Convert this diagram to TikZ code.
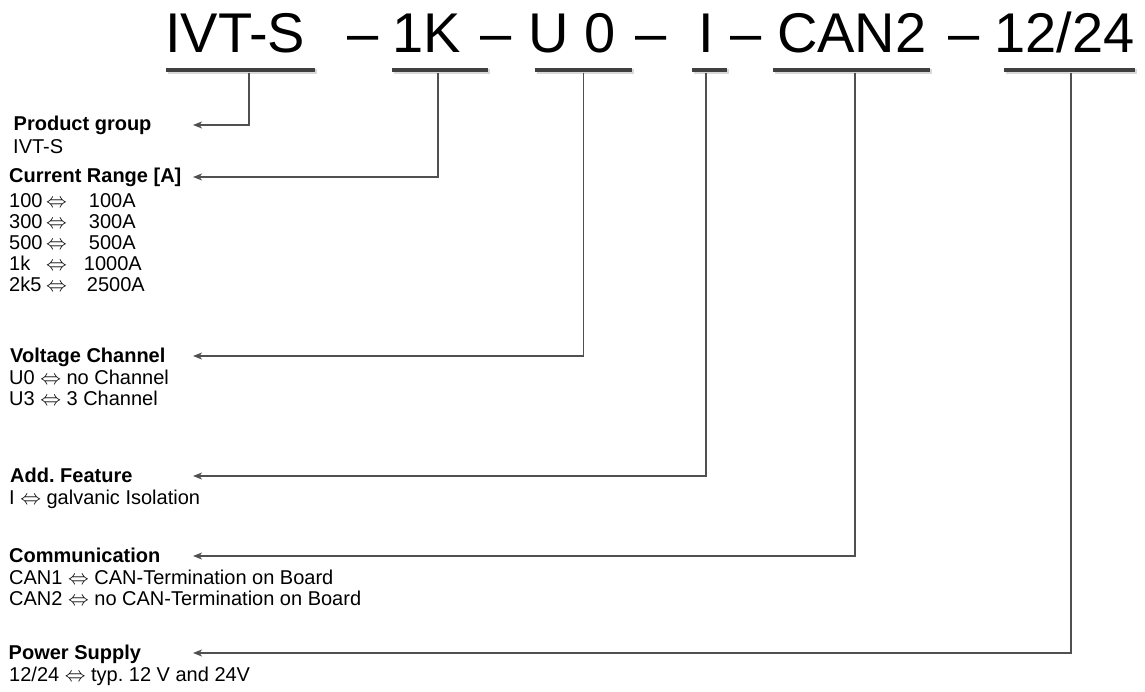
\documentclass[tikz,border=0pt]{standalone}
\usepackage{fontspec}
\setmainfont{Liberation Sans}
\usetikzlibrary{arrows.meta}
\usetikzlibrary{positioning}
\usetikzlibrary{shadows}
\definecolor{bargray}{HTML}{404040}
\definecolor{linegray}{HTML}{505050}
\newcommand{\dblarrow}{\ensuremath{\Leftrightarrow}}
\frenchspacing
\tikzset{x=1pt, y=-1pt}
\tikzset{bar/.style = {fill=bargray, inner sep=0, minimum height=4.5,
                       drop shadow={shadow xshift=2pt, shadow yshift=-1.5pt,
                                    fill=black!15, opacity=1}}}
\tikzset{code/.style = {font=\fontsize{56}{56}\selectfont, inner sep=0, anchor=base west}}
\tikzset{head/.style = {font=\fontsize{20}{21}\selectfont\bfseries, inner sep=0, anchor=base west}}
\tikzset{body/.style = {font=\fontsize{20}{21}\selectfont, inner sep=0, anchor=north west, align=left}}
\tikzset{lead/.style = {draw=linegray, line width=1.3pt,
                        -{Stealth[length=9pt, width=7pt, inset=2.5pt]}}}

\begin{document}
\begin{tikzpicture}
  \useasboundingbox (0,0) rectangle (1145,692);

  % type code
  \node [code] (cIVT) at (165,53) {IVT-S};
  \node [code] (dash1) at (347,53) {–};
  \node [code] (c1K) at (392,53) {1K};
  \node [code] (dash2) at (480,53) {–};
  \node [code] (cU0) at (528,53) {U 0};
  \node [code] (dash3) at (635,53) {–};
  \node [code] (cI) at (698,53) {I};
  \node [code] (dash4) at (730,53) {–};
  \node [code] (cCAN) at (777,53) {CAN2};
  \node [code] (dash5) at (948,53) {–};
  \node [code] (c1224) at (994,53) {12/24};

  \node [bar, minimum width=149] (barIVT) at (240.5,70.25) {};
  \node [bar, minimum width=96] (bar1K) at (440,70.25) {};
  \node [bar, minimum width=97] (barU0) at (583.5,70.25) {};
  \node [bar, minimum width=35] (barI) at (709.5,70.25) {};
  \node [bar, minimum width=157] (barCAN) at (851.5,70.25) {};
  \node [bar, minimum width=131] (bar1224) at (1069.5,70.25) {};

  % legend
  \node [head] (hdPG) at (13.5,131) {Product group};
  \node [body] (bdPG) at (13,139.2) {IVT-S};

  \node [head] (hdCR) at (9,182.5) {Current Range [A]};
  \node [body] (bdCR) at (9,193) {\makebox[37pt][l]{100}\dblarrow\hspace{22pt}100A\\
    \makebox[37pt][l]{300}\dblarrow\hspace{22pt}300A\\
    \makebox[37pt][l]{500}\dblarrow\hspace{22pt}500A\\
    \makebox[37pt][l]{1k}\dblarrow\hspace{17pt}1000A\\
    \makebox[37pt][l]{2k5}\dblarrow\hspace{20pt}2500A};

  \node [head] (hdVC) at (10,362) {Voltage Channel};
  \node [body] (bdVC) at (9,370.2) {U0 \dblarrow{} no Channel\\U3 \dblarrow{} 3 Channel};

  \node [head] (hdAF) at (10,482) {Add. Feature};
  \node [body] (bdAF) at (9,490.2) {I \dblarrow{} galvanic Isolation};

  \node [head] (hdCM) at (9,562) {Communication};
  \node [body] (bdCM) at (9,570.2) {CAN1 \dblarrow{} CAN-Termination on Board\\
    CAN2 \dblarrow{} no CAN-Termination on Board};

  \node [head] (hdPS) at (8.5,659) {Power Supply};
  \node [body] (bdPS) at (9,667.2) {12/24 \dblarrow{} typ. 12 V and 24V};

  % leaders
  \coordinate (tipPG) at (193,125);
  \coordinate (tipCR) at (193,177);
  \coordinate (tipVC) at (193,356);
  \coordinate (tipAF) at (193,476);
  \coordinate (tipCM) at (193,556);
  \coordinate (tipPS) at (193,653);

  \draw [lead] ([xshift=8.5pt]barIVT.south) |- (tipPG);
  \draw [lead] ([xshift=-2pt]bar1K.south) |- (tipCR);
  \draw [lead] (barU0.south) |- (tipVC);
  \draw [lead] ([xshift=-3.5pt]barI.south) |- (tipAF);
  \draw [lead] ([xshift=3.5pt]barCAN.south) |- (tipCM);
  \draw [lead] ([xshift=1.5pt]bar1224.south) |- (tipPS);
\end{tikzpicture}
\end{document}
